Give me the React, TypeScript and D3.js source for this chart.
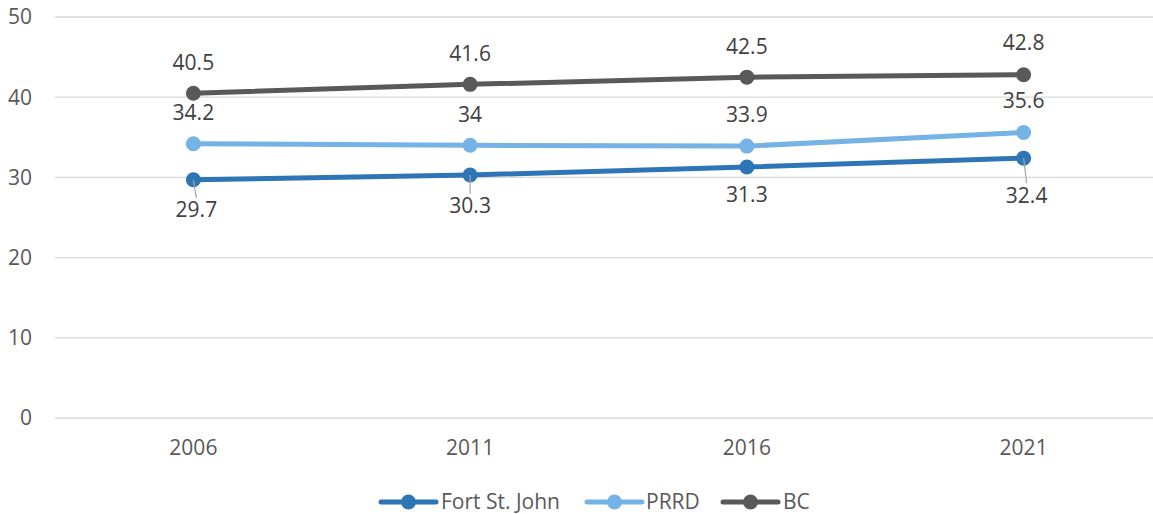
import React from "react";
import * as d3 from "d3";

const years = ["2006", "2011", "2016", "2021"];
const fortStJohn = [29.7, 30.3, 31.3, 32.4];
const prrd = [34.2, 34.0, 33.9, 35.6];
const bc = [40.5, 41.6, 42.5, 42.8];
const yTicks = [0, 10, 20, 30, 40, 50];
const seriesNames = ["Fort St. John", "PRRD", "BC"];

const W = 1153;
const H = 514;
const FONT = "'Open Sans', 'Noto Sans', sans-serif";
const TEXT = "#595959";
const FS = 21;

const colors = ["#2E75B6", "#75B2E6", "#595959"];
// label placement: negative = above point, positive = below (center offset in px)
const labelOffsets = [
  [30, 31, 28, 37],
  [-31, -31, -31, -32],
  [-31, -31, -31, -32],
];
const leaderShift = [3, 0, 0, 3];
const showLeader = [true, true, false, true];

export default function App() {
  const x = d3.scaleBand<string>().domain(years).range([55, 1162]).padding(0);
  const y = d3.scaleLinear().domain([0, 50]).range([418, 17]);
  const cx = (c: string) => (x(c) as number) + x.bandwidth() / 2;
  const seriesData = [fortStJohn, prrd, bc];
  const line = d3
    .line<number>()
    .x((_, i) => cx(years[i]))
    .y((d) => y(d));

  const legendItems = [
    { x0: 381, tx: 441 },
    { x0: 587, tx: 646 },
    { x0: 723, tx: 783 },
  ];
  const legendY = 502;

  return (
    <svg
      width={W}
      height={H}
      style={{ position: "absolute", left: 0, top: 0, background: "#fff" }}
      fontFamily={FONT}
    >
      {yTicks.map((t) => (
        <g key={t}>
          <line x1={55} x2={W} y1={y(t)} y2={y(t)} stroke="#D9D9D9" strokeWidth={1.3} />
          <text x={32} y={y(t)} dy="0.35em" textAnchor="end" fontSize={FS} fill={TEXT}>
            {t}
          </text>
        </g>
      ))}
      {years.map((c) => (
        <text key={c} x={cx(c)} y={448} dy="0.35em" textAnchor="middle" fontSize={FS} fill={TEXT}>
          {c}
        </text>
      ))}
      {seriesData.map((s, si) => (
        <g key={si}>
          <path d={line(s) || ""} fill="none" stroke={colors[si]} strokeWidth={5} strokeLinecap="round" />
          {s.map((v, i) => (
            <circle key={i} cx={cx(years[i])} cy={y(v)} r={7.5} fill={colors[si]} />
          ))}
        </g>
      ))}
      {/* leader lines for Fort St. John labels */}
      {fortStJohn.map((v, i) =>
        showLeader[i] ? (
          <line
            key={"ld" + i}
            x1={cx(years[i])}
            y1={y(v)}
            x2={cx(years[i]) + leaderShift[i]}
            y2={y(v) + labelOffsets[0][i] - 12}
            stroke="#A6A6A6"
            strokeWidth={1.2}
          />
        ) : null
      )}
      {seriesData.map((s, si) =>
        s.map((v, i) => (
          <text
            key={si + "-" + i}
            x={cx(years[i]) + (si === 0 ? leaderShift[i] : 0)}
            y={y(v) + labelOffsets[si][i]}
            dy="0.35em"
            textAnchor="middle"
            fontSize={FS}
            fill={"#404040"}
          >
            {String(v)}
          </text>
        ))
      )}
      {legendItems.map((it, i) => (
        <g key={i}>
          <line
            x1={it.x0}
            x2={it.x0 + 55}
            y1={legendY}
            y2={legendY}
            stroke={colors[i]}
            strokeWidth={5}
            strokeLinecap="round"
          />
          <circle cx={it.x0 + 27.5} cy={legendY} r={7.5} fill={colors[i]} />
          <text x={it.tx} y={legendY} dy="0.35em" fontSize={FS} fill={TEXT}>
            {seriesNames[i]}
          </text>
        </g>
      ))}
    </svg>
  );
}
